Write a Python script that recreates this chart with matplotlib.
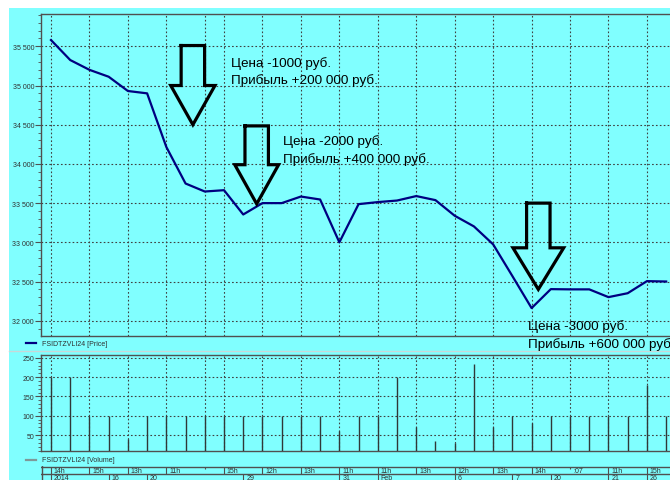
import matplotlib
matplotlib.use("Agg")
import matplotlib.pyplot as plt
from matplotlib.lines import Line2D
from matplotlib.patches import Rectangle
from matplotlib.ticker import FuncFormatter, MultipleLocator

W, H = 670, 481

# one point per trade
price = [35580, 35325, 35200, 35112, 34930, 34900, 34216, 33750, 33648, 33665,
         33355, 33500, 33500, 33584, 33546, 33000, 33487, 33513, 33533, 33590,
         33538, 33339, 33203, 32974, 32570, 32161, 32403, 32400, 32400, 32301,
         32351, 32505, 32500]
volume = [200, 200, 100, 100, 40, 100, 100, 100, 100, 100,
          100, 100, 100, 100, 100, 60, 100, 100, 200, 70,
          35, 30, 235, 70, 100, 80, 100, 100, 100, 100,
          100, 180, 100]

hour_pos = [0, 2, 4, 6, 8, 9, 11, 13, 15, 17, 19, 21, 23, 25, 27, 29, 31]
hour_labels = ['14h', '15h', '13h', '11h', '', '15h', '12h', '13h', '11h',
               '11h', '13h', '12h', '13h', '14h', ':07', '11h', '15h']
day_pos = [0, 3, 5, 10, 15, 17, 21, 24, 26, 29, 31]
day_labels = ['2014', '16', '20', '29', '31', 'Feb', '6', '7', '20', '21', '26']

note_lines = [
    ("Цена -1000 руб.", "Прибыль +200 000 руб."),
    ("Цена -2000 руб.", "Прибыль +400 000 руб."),
    ("Цена -3000 руб.", "Прибыль +600 000 руб."),
]

BG = '#80ffff'
GRID = '#404040'
AXC = '#505050'
SMALL = dict(family=['Liberation Sans Narrow', 'Liberation Sans'], fontsize=5, color='#303030')


def fx(px):
    return px / W


def fy(py):
    return 1 - py / H


fig = plt.figure(figsize=(W / 100, H / 100), dpi=100, facecolor=BG)
fig.patches.append(Rectangle((0, fy(9)), 1, 9 / H, transform=fig.transFigure,
                             facecolor='white', edgecolor='none'))
fig.patches.append(Rectangle((0, 0), fx(9), 1, transform=fig.transFigure,
                             facecolor='white', edgecolor='none'))

x = list(range(len(price)))
xlim = (-0.52, 32.2)


def style_axes(ax):
    ax.set_facecolor(BG)
    ax.set_xlim(*xlim)
    ax.set_xticks(hour_pos)
    ax.tick_params(axis='x', length=0, labelbottom=False)
    ax.tick_params(axis='y', which='major', direction='out', length=4, width=0.8,
                   color=AXC, pad=1, labelsize=5, labelcolor='#303030')
    ax.tick_params(axis='y', which='minor', direction='out', length=2, width=0.6, color=AXC)
    for lab in ax.get_yticklabels():
        lab.set_family(SMALL['family'])
    ax.grid(True, which='major', color=GRID, linestyle=(0, (1.5, 2)), linewidth=0.8)
    ax.spines['right'].set_visible(False)
    for s in ('left', 'top', 'bottom'):
        ax.spines[s].set_color(AXC)
        ax.spines[s].set_linewidth(1)


# price panel
ax_p = fig.add_axes([fx(41), fy(336.7), 1 - fx(41), (336.7 - 14.7) / H])
ax_p.set_ylim(31809, 35916)
ax_p.yaxis.set_major_locator(MultipleLocator(500))
ax_p.yaxis.set_minor_locator(MultipleLocator(100))
ax_p.yaxis.set_major_formatter(FuncFormatter(lambda v, p: f"{int(v):,}".replace(',', ' ')))
style_axes(ax_p)
ax_p.plot(x, price, color='#000080', linewidth=1.6, zorder=3)

# hand drawn style arrows: centre, top, shoulder, tip, head half width
arrows = [(7.38, 35510, 35000, 34500, 1.15),
          (10.70, 34485, 33990, 33490, 1.14),
          (25.35, 33500, 32930, 32400, 1.32)]
for c, top, mid, tip, hw in arrows:
    sw = 0.61
    ax_p.plot([c - sw, c - sw, c - hw, c, c + hw, c + sw, c + sw, c - sw],
              [top, mid, mid, tip, mid, mid, top, top],
              color='black', linewidth=2.3, solid_joinstyle='miter', zorder=4)

note_xy = [(231, 66.7, 84), (283, 145, 163), (528, 330, 348)]
for (l1, l2), (tx, y1, y2) in zip(note_lines, note_xy):
    for txt, ty in ((l1, y1), (l2, y2)):
        fig.text(fx(tx), fy(ty), txt, family=['Liberation Sans', 'DejaVu Sans'],
                 fontsize=9.7, color='black', va='baseline', ha='left', zorder=5)

# volume panel
ax_v = fig.add_axes([fx(41), fy(452.3), 1 - fx(41), (452.3 - 355.7) / H])
ax_v.set_ylim(8, 258)
ax_v.yaxis.set_major_locator(MultipleLocator(50))
ax_v.yaxis.set_minor_locator(MultipleLocator(10))
ax_v.set_yticks([50, 100, 150, 200, 250])
style_axes(ax_v)
ax_v.vlines(x, 0, volume, color='#303838', linewidth=1, zorder=3)

# legends and panel separator
fig.add_artist(Line2D([fx(26), fx(36)], [fy(344), fy(344)], color='#000080', linewidth=1.6))
fig.text(fx(42), fy(344), 'FSIDTZVLI24 [Price]', va='center', ha='left', **SMALL)
fig.add_artist(Line2D([fx(9), 1], [fy(351.5), fy(351.5)], color='#c8d8d8', linewidth=1))
fig.add_artist(Line2D([fx(26), fx(36)], [fy(460.7), fy(460.7)], color='#7f9999', linewidth=1.6))
fig.text(fx(42), fy(460.7), 'FSIDTZVLI24 [Volume]', va='center', ha='left', **SMALL)

# date band
ax_d = fig.add_axes([fx(41), 0, 1 - fx(41), 14 / H])
ax_d.set_xlim(*xlim)
ax_d.set_ylim(0, 14)
ax_d.axis('off')
ax_d.axhline(13.5, color=AXC, linewidth=1)
ax_d.axhline(6, color=AXC, linewidth=1)
ax_d.axvline(xlim[0] + 0.03, color=AXC, linewidth=1)
for k, lab in zip(hour_pos, hour_labels):
    short = lab in ('', ':07')
    ax_d.vlines(k, 11 if short else 6, 13.5, color=AXC, linewidth=0.8)
    ax_d.text(k + 0.15, 9.6, lab, va='center', ha='left', **SMALL)
for k, lab in zip(day_pos, day_labels):
    ax_d.vlines(k, 0, 6, color=AXC, linewidth=0.8)
    ax_d.text(k + 0.15, 2.2, lab, va='center', ha='left', **SMALL)

fig.savefig('out.png', dpi=100, facecolor=fig.get_facecolor())
